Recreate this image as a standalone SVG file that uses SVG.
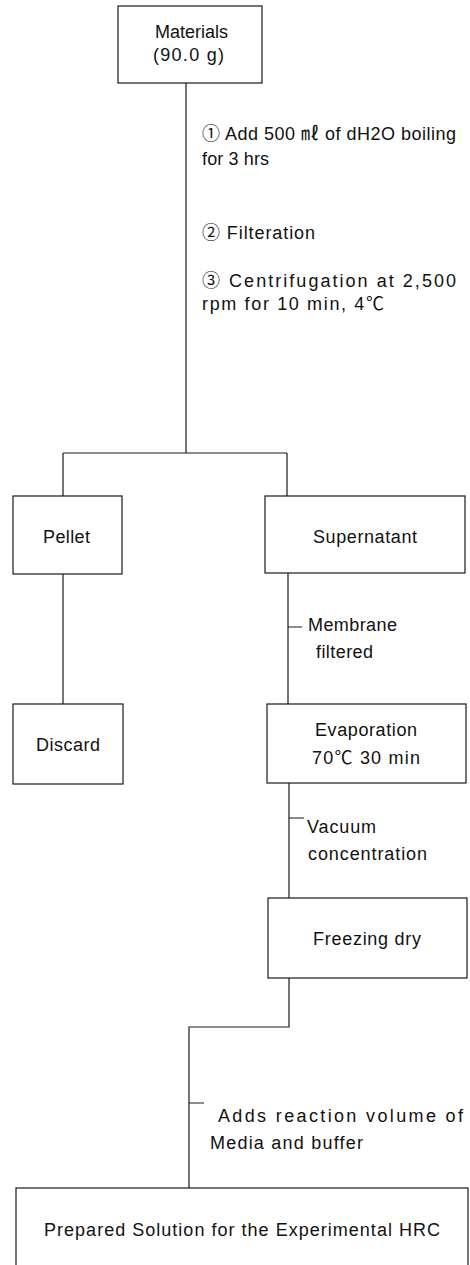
<svg xmlns="http://www.w3.org/2000/svg" width="470" height="1265" viewBox="0 0 470 1265">
<style>
.box{fill:#fff;stroke:#1a1a1a;stroke-width:1.2}
.ln{fill:none;stroke:#1a1a1a;stroke-width:1.2}
text{font-family:"Liberation Sans","Noto Sans CJK KR",sans-serif;font-size:18px;fill:#111}
</style>
<rect width="470" height="1265" fill="#fff"/>
<g id="connectors">
<path class="ln" d="M186,83 V453 M63,453 H287 M63,453 V496 M287,453 V496"/>
<path class="ln" d="M63,574 V704"/>
<path class="ln" d="M288,573 V704 M288,627 H302"/>
<path class="ln" d="M289,783 V898 M289,818 H304"/>
<path class="ln" d="M289,978 V1027 H189 V1188 M189,1103 H204"/>
</g>
<g id="step-labels">
<text x="202" y="140" textLength="254" lengthAdjust="spacing">① Add 500 ㎖ of dH2O boiling</text>
<text x="202" y="165" textLength="67" lengthAdjust="spacing">for 3 hrs</text>
<text x="202" y="239" textLength="113" lengthAdjust="spacing">② Filteration</text>
<text x="202" y="287" textLength="254" lengthAdjust="spacing">③ Centrifugation at 2,500</text>
<text x="202" y="310" textLength="182" lengthAdjust="spacing">rpm for 10 min, 4℃</text>
<text x="308" y="631" textLength="89" lengthAdjust="spacing">Membrane</text>
<text x="316" y="658" textLength="57" lengthAdjust="spacing">filtered</text>
<text x="307" y="833" textLength="69" lengthAdjust="spacing">Vacuum</text>
<text x="308" y="860" textLength="119" lengthAdjust="spacing">concentration</text>
<text x="218" y="1122" textLength="245" lengthAdjust="spacing">Adds reaction volume of</text>
<text x="210" y="1149" textLength="153" lengthAdjust="spacing">Media and buffer</text>
</g>
<g id="materials">
<rect class="box" x="118" y="6" width="144" height="77"/>
<text x="155" y="38" textLength="73" lengthAdjust="spacing">Materials</text>
<text x="153" y="61" textLength="71" lengthAdjust="spacing">(90.0 g)</text>
</g>
<g id="pellet">
<rect class="box" x="13" y="496" width="109" height="78"/>
<text x="43" y="543" textLength="47" lengthAdjust="spacing">Pellet</text>
</g>
<g id="supernatant">
<rect class="box" x="265" y="496" width="200" height="77"/>
<text x="313" y="543" textLength="104" lengthAdjust="spacing">Supernatant</text>
</g>
<g id="discard">
<rect class="box" x="13" y="704" width="110" height="80"/>
<text x="36" y="751" textLength="64" lengthAdjust="spacing">Discard</text>
</g>
<g id="evaporation">
<rect class="box" x="267" y="704" width="199" height="79"/>
<text x="315" y="736" textLength="102" lengthAdjust="spacing">Evaporation</text>
<text x="312" y="764" textLength="108" lengthAdjust="spacing">70℃ 30 min</text>
</g>
<g id="freezing-dry">
<rect class="box" x="268" y="898" width="199" height="80"/>
<text x="313" y="945" textLength="108" lengthAdjust="spacing">Freezing dry</text>
</g>
<g id="prepared-solution">
<rect class="box" x="16" y="1188" width="452" height="80"/>
<text x="44" y="1236" textLength="396" lengthAdjust="spacing">Prepared Solution for the Experimental HRC</text>
</g>
</svg>
